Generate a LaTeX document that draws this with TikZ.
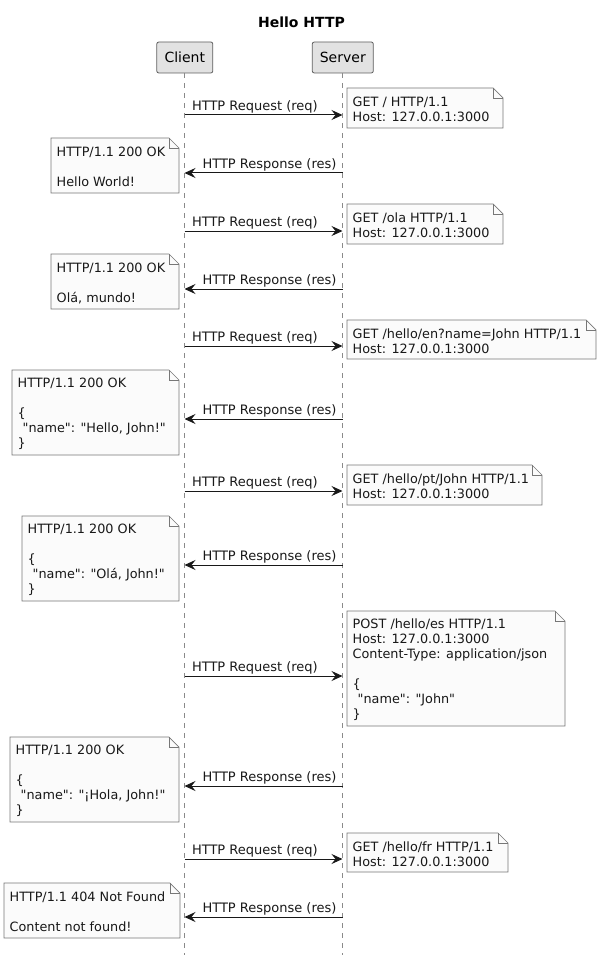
\documentclass[tikz,border=0pt]{standalone}
\usepackage{fontspec}
\setmainfont{DejaVu Sans}
\newfontfamily\dv{DejaVu Sans}
\usetikzlibrary{arrows.meta,backgrounds}
\definecolor{notefill}{HTML}{FBFBFB}
\definecolor{noteline}{HTML}{777777}
\definecolor{partfill}{HTML}{E2E2E2}
\definecolor{partline}{HTML}{5E5E5E}
\definecolor{ink}{HTML}{181818}
\definecolor{lifegray}{HTML}{8A8A8A}
\tikzset{
  part/.style={draw=partline, fill=partfill, rounded corners=2pt, line width=0.8pt,
    font=\dv\fontsize{14}{16}\selectfont, minimum height=31pt, inner sep=0pt},
  lifeline/.style={draw=lifegray, line width=0.6pt, dash pattern=on 5pt off 5pt},
  msg/.style={draw=ink, line width=1pt, -{Stealth[length=11pt,width=10pt,inset=4pt]}},
  msglabel/.style={font=\dv\fontsize{13}{15}\selectfont, text=ink, inner sep=0pt, anchor=base west},
  notetext/.style={font=\dv\fontsize{12.8}{15}\selectfont, text=ink, align=left, inner sep=0pt, anchor=west},
  noteshape/.style={draw=noteline, fill=notefill, line width=0.7pt}
}
% name, x, y, w, h, text
\newcommand\notebox[6]{%
  \node[notetext] (#1) at (#2+5.5, #3+#5/2+1.5) {#6};
  \begin{scope}[on background layer]
    \path[noteshape] (#2,#3) -- (#2+#4-10,#3) -- (#2+#4,#3+10) -- (#2+#4,#3+#5) -- (#2,#3+#5) -- cycle;
    \draw[noteshape, fill=none] (#2+#4-10,#3) -- (#2+#4-10,#3+10) -- (#2+#4,#3+10);
  \end{scope}}
\begin{document}
\begin{tikzpicture}[x=1pt,y=-1pt]
\useasboundingbox (0,0) rectangle (601,960);
\node[font=\dv\bfseries\fontsize{14}{16}\selectfont, text=black] (title) at (301.5,22) {Hello HTTP};
\node[part, minimum width=56pt] (client) at (184.8,57.5) {Client};
\node[part, minimum width=61pt] (server) at (342.8,57.5) {Server};
\coordinate (clientend) at (184.5,955);
\coordinate (serverend) at (342.5,955);
\draw[lifeline] (client.south -| clientend) -- (clientend);
\draw[lifeline] (server.south -| serverend) -- (serverend);
% requests
\foreach \i/\y in {1/115,3/231,5/346,7/491,9/676,11/859}{
  \coordinate (c\i) at (184.5,\y);
  \coordinate (s\i) at (342.5,\y);
  \draw[msg] (c\i) -- (s\i) node[msglabel, pos=0, xshift=7pt, yshift=4.5pt] {HTTP Request (req)};
}
% responses
\foreach \i/\y in {2/173,4/289,6/419,8/565,10/786,12/917}{
  \coordinate (c\i) at (184.5,\y);
  \coordinate (s\i) at (342.5,\y);
  \draw[msg] (s\i) -- (c\i) node[msglabel, pos=1, xshift=17.5pt, yshift=5pt] {HTTP Response (res)};
}
\notebox{n1}{347}{88}{156}{40}{GET / HTTP/1.1\\Host: 127.0.0.1:3000}
\notebox{n2}{51}{138}{128}{55}{HTTP/1.1 200 OK\\[15pt]Hello World!}
\notebox{n3}{347}{204}{156}{40}{GET /ola HTTP/1.1\\Host: 127.0.0.1:3000}
\notebox{n4}{51}{254}{128}{55}{HTTP/1.1 200 OK\\[15pt]Olá, mundo!}
\notebox{n5}{347}{320}{249}{39}{GET /hello/en?name=John HTTP/1.1\\Host: 127.0.0.1:3000}
\notebox{n6}{12}{370}{167}{85}{HTTP/1.1 200 OK\\[15pt]\{\\\hspace*{5pt}"name": "Hello, John!"\\\}}
\notebox{n7}{347}{465}{195}{40}{GET /hello/pt/John HTTP/1.1\\Host: 127.0.0.1:3000}
\notebox{n8}{22}{516}{157}{85}{HTTP/1.1 200 OK\\[15pt]\{\\\hspace*{5pt}"name": "Olá, John!"\\\}}
\notebox{n9}{347}{611}{218}{115}{POST /hello/es HTTP/1.1\\Host: 127.0.0.1:3000\\Content-Type: application/json\\[15pt]\{\\\hspace*{5pt}"name": "John"\\\}}
\notebox{n10}{10}{737}{169}{85}{HTTP/1.1 200 OK\\[15pt]\{\\\hspace*{5pt}"name": "¡Hola, John!"\\\}}
\notebox{n11}{347}{833}{161}{39}{GET /hello/fr HTTP/1.1\\Host: 127.0.0.1:3000}
\notebox{n12}{4}{883}{176}{55}{HTTP/1.1 404 Not Found\\[15pt]Content not found!}
\end{tikzpicture}
\end{document}
